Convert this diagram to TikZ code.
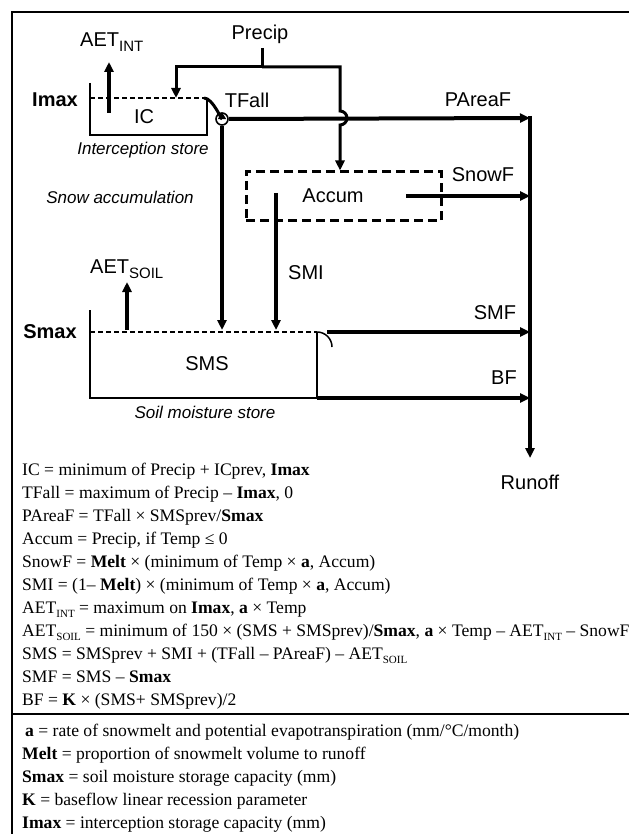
\documentclass[tikz,border=0pt]{standalone}
\usepackage{fontspec}
\setmainfont{Liberation Serif}
\newfontfamily\arial{Liberation Sans}
\usetikzlibrary{arrows.meta}
\newcommand\sbs[1]{\raisebox{-4pt}{\fontsize{11}{11}\selectfont #1}}
\newcommand\lsb[1]{\raisebox{-5pt}{\fontsize{15}{15}\selectfont #1}}
\begin{document}
\begin{tikzpicture}[x=1pt,y=-1pt,
  lbl/.style={font=\arial\fontsize{20}{24}\selectfont, inner sep=0pt},
  lblb/.style={font=\arial\bfseries\fontsize{20}{24}\selectfont, inner sep=0pt},
  ital/.style={font=\arial\itshape\fontsize{17}{20}\selectfont, inner sep=0pt},
  eq/.style={font=\fontsize{17.6}{20}\selectfont, anchor=base west, inner sep=0pt},
  outerframe/.style={line width=2.5pt},
  wall/.style={line width=1.8pt},
  capline/.style={line width=2.2pt, dash pattern=on 5pt off 3pt},
  feed/.style={line width=3pt},
  tip/.style={-{Triangle[length=10pt,width=9pt]}},
  flow/.style={line width=4pt, tip},
  accbox/.style={draw, line width=3pt, dash pattern=on 9pt off 5pt, minimum width=195pt, minimum height=49pt, inner sep=0pt}
]
\useasboundingbox (0,0) rectangle (629,834);
\fill[white] (0,0) rectangle (629,834);
% frame
\coordinate (fbl) at (12,834);
\coordinate (ftl) at (12,12);
\coordinate (ftr) at (629,12);
\coordinate (dl) at (12,714);
\coordinate (dr) at (629,714);
\draw[outerframe] (fbl) -- (ftl) -- (ftr);
\draw[line width=2pt] (dl) -- (dr);

% Precip feed
\node[lbl, anchor=base] (precip) at (260,40) {Precip};
\coordinate (ptop) at (262,48);
\coordinate (pj) at (262,67);
\coordinate (pl) at (176,67);
\coordinate (plt) at (176,98);
\coordinate (pr) at (340,67);
\coordinate (prh) at (340,111);
\draw[feed] (ptop) -- (pj);
\draw[feed, tip] (pj) -- (pl) -- (plt);

% Interception store
\coordinate (iwt) at (90,83);
\coordinate (iwb) at (90,135);
\coordinate (iwbr) at (207,135);
\coordinate (iwr) at (207,98);
\coordinate (icl) at (90,98);
\draw[wall] (iwt) -- (iwb) -- (iwbr) -- (iwr);
\draw[capline] (icl) -- (iwr);
\node[lblb] (imax) at (55,100) {Imax};
\node[lbl] (ic) at (144,117) {IC};
\node[ital] (istore) at (143,150) {Interception store};
\coordinate (aib) at (109,113);
\coordinate (ait) at (109,62);
\draw[flow] (aib) -- (ait);
\node[lbl, anchor=base west] (aetint) at (80,47) {AET\lsb{INT}};

% TFall
\node[lbl] (tfall) at (247,100) {TFall};
\node[draw, circle, line width=1.6pt, minimum size=12pt, inner sep=0pt] (tc) at (222,119) {};
\coordinate (tfs) at (204,98);
\draw[line width=3pt, -{Triangle[length=7pt,width=8pt]}] (tfs) to[out=0,in=-90] (tc.north);

% Runoff line
\coordinate (rtop) at (530,116);
\coordinate (rbot) at (530,458);
\draw[flow] (rtop) -- (rbot);
\node[lbl] (runoff) at (530,482) {Runoff};

% PAreaF
\coordinate (pae) at (530,118);
\draw[flow] (tc.east) -- (pae);
\node[lbl] (pareaf) at (478,100) {PAreaF};

% Accum
\node[accbox] (accum) at (343.5,196.5) {};
\node[lbl] (accumt) at (333,196) {Accum};
\draw[feed, tip] (pj) -- (pr) -- (prh) arc(-90:90:7) -- (accum.north -| pr);

% vertical from TFall circle
\coordinate (tv) at (222,330);
\draw[flow] (tc.south) -- (tv);

% SMI
\coordinate (smit) at (276,193);
\coordinate (smib) at (276,330);
\draw[flow] (smit) -- (smib);
\node[lbl] (smi) at (306,273) {SMI};

% SnowF
\coordinate (sfs) at (406,196);
\coordinate (sfe) at (530,196);
\draw[flow] (sfs) -- (sfe);
\node[lbl] (snowf) at (483,175) {SnowF};
\node[ital] (snowacc) at (120,197) {Snow accumulation};

% Soil moisture store
\coordinate (swt) at (90,310);
\coordinate (swb) at (90,398);
\coordinate (swbr) at (317,398);
\coordinate (swr) at (317,332);
\coordinate (scl) at (90,332);
\draw[wall] (swt) -- (swb) -- (swbr) -- (swr);
\draw[capline] (scl) -- (swr);
\draw[line width=1.5pt] (swr) arc(-90:0:15);
\node[lblb] (smax) at (50,332) {Smax};
\node[lbl] (sms) at (207,364) {SMS};
\node[ital] (sstore) at (205,412) {Soil moisture store};
\coordinate (asb) at (127,330);
\coordinate (ast) at (127,282);
\draw[flow] (asb) -- (ast);
\node[lbl, anchor=base west] (aetsoil) at (90,273) {AET\lsb{SOIL}};

% SMF, BF
\coordinate (smfs) at (327,332);
\coordinate (smfe) at (530,332);
\draw[flow] (smfs) -- (smfe);
\node[lbl] (smf) at (495,313) {SMF};
\coordinate (bfe) at (530,398);
\draw[flow] (swbr) -- (bfe);
\node[lbl] (bf) at (504,378) {BF};

% Equations
\node[eq] (e1) at (22,475) {IC = minimum of Precip + ICprev, \textbf{Imax}};
\node[eq] (e2) at (22,498) {TFall = maximum of Precip – \textbf{Imax}, 0};
\node[eq] (e3) at (22,521) {PAreaF = TFall × SMSprev/\textbf{Smax}};
\node[eq] (e4) at (22,544) {Accum = Precip, if Temp ≤ 0};
\node[eq] (e5) at (22,567) {SnowF = \textbf{Melt} × (minimum of Temp × \textbf{a}, Accum)};
\node[eq] (e6) at (22,590) {SMI = (1– \textbf{Melt}) × (minimum of Temp × \textbf{a}, Accum)};
\node[eq] (e7) at (22,613) {AET\sbs{INT} = maximum on \textbf{Imax}, \textbf{a} × Temp};
\node[eq] (e8) at (22,636) {AET\sbs{SOIL} = minimum of 150 × (SMS + SMSprev)/\textbf{Smax}, \textbf{a} × Temp – AET\sbs{INT} – SnowF};
\node[eq] (e9) at (22,659) {SMS = SMSprev + SMI + (TFall – PAreaF) – AET\sbs{SOIL}};
\node[eq] (e10) at (22,682) {SMF = SMS – \textbf{Smax}};
\node[eq] (e11) at (22,705) {BF = \textbf{K} × (SMS+ SMSprev)/2};
% Legend
\node[eq] (l1) at (25,736) {\textbf{a} = rate of snowmelt and potential evapotranspiration (mm/°C/month)};
\node[eq] (l2) at (22,759) {\textbf{Melt} = proportion of snowmelt volume to runoff};
\node[eq] (l3) at (22,782) {\textbf{Smax} = soil moisture storage capacity (mm)};
\node[eq] (l4) at (22,805) {\textbf{K} = baseflow linear recession parameter};
\node[eq] (l5) at (22,828) {\textbf{Imax} = interception storage capacity (mm)};
\end{tikzpicture}
\end{document}
